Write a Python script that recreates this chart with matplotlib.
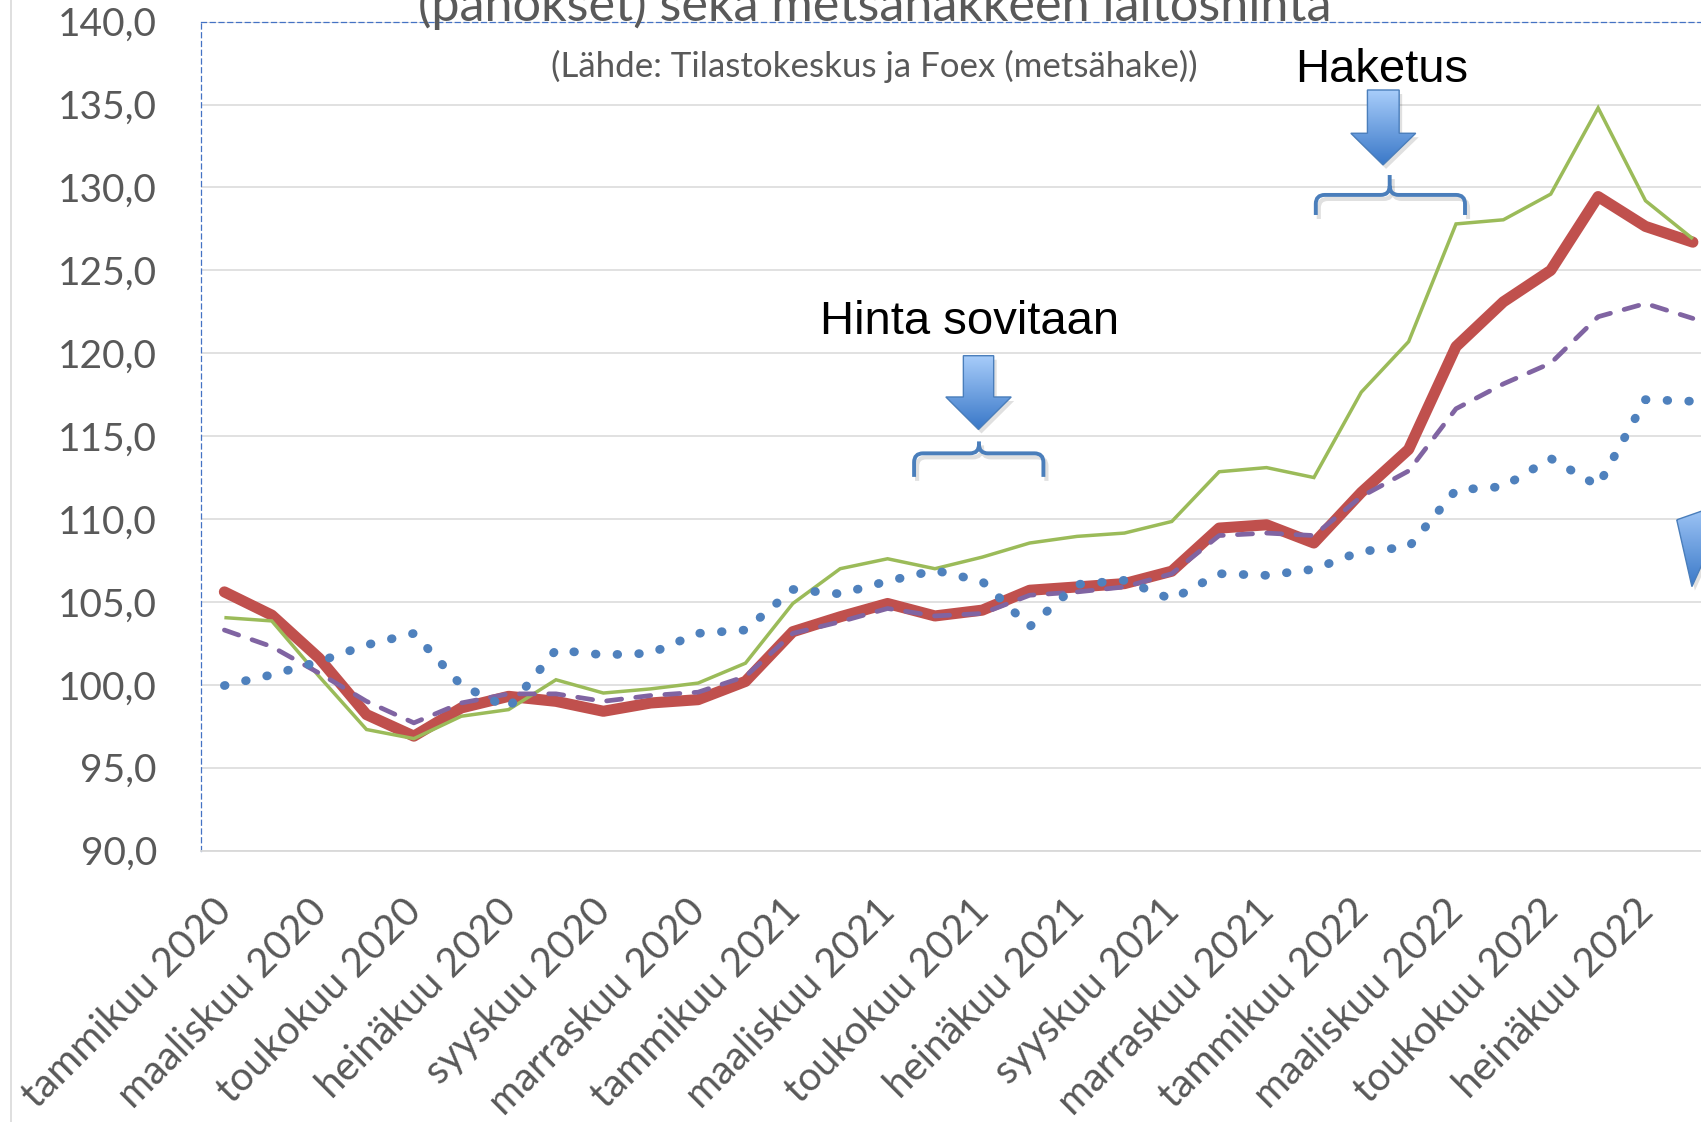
import numpy as np
import matplotlib
matplotlib.use("Agg")
import matplotlib.pyplot as plt
from matplotlib.patches import Polygon, PathPatch
from matplotlib.path import Path
from matplotlib.colors import LinearSegmentedColormap
from matplotlib.transforms import ScaledTranslation
from matplotlib.lines import Line2D

plt.rcParams['font.family'] = ['Lato', 'DejaVu Sans']

# ---------------- data ----------------
categories = [
    "tammikuu 2020", "helmikuu 2020", "maaliskuu 2020", "huhtikuu 2020",
    "toukokuu 2020", "kesäkuu 2020", "heinäkuu 2020", "elokuu 2020",
    "syyskuu 2020", "lokakuu 2020", "marraskuu 2020", "joulukuu 2020",
    "tammikuu 2021", "helmikuu 2021", "maaliskuu 2021", "huhtikuu 2021",
    "toukokuu 2021", "kesäkuu 2021", "heinäkuu 2021", "elokuu 2021",
    "syyskuu 2021", "lokakuu 2021", "marraskuu 2021", "joulukuu 2021",
    "tammikuu 2022", "helmikuu 2022", "maaliskuu 2022", "huhtikuu 2022",
    "toukokuu 2022", "kesäkuu 2022", "heinäkuu 2022", "elokuu 2022",
]

series_red = [105.6, 104.2, 101.6, 98.2, 96.9, 98.6, 99.3, 99.0, 98.4, 98.9,
              99.1, 100.2, 103.2, 104.1, 104.9, 104.15, 104.5, 105.7, 105.9, 106.1,
              106.85, 109.45, 109.65, 108.55, 111.6, 114.2, 120.4, 123.1, 125.0, 129.45,
              127.65, 126.7]
series_green = [104.05, 103.85, 100.5, 97.3, 96.75, 98.1, 98.5, 100.3, 99.5, 99.75,
                100.1, 101.3, 104.9, 107.0, 107.6, 107.0, 107.7, 108.55, 108.95, 109.15,
                109.85, 112.85, 113.1, 112.5, 117.65, 120.7, 127.8, 128.05, 129.6, 134.8,
                129.2, 126.9]
series_purple = [103.3, 102.3, 100.7, 99.0, 97.7, 98.9, 99.45, 99.45, 99.0, 99.35,
                 99.55, 100.5, 103.1, 103.8, 104.6, 104.15, 104.3, 105.4, 105.6, 105.9,
                 106.7, 109.0, 109.15, 109.0, 111.35, 112.9, 116.65, 118.15, 119.4, 122.2,
                 123.0, 122.1]
series_blue = [99.95, 100.6, 101.4, 102.4, 103.1, 99.97, 98.6, 102.1, 101.8, 101.9,
               103.1, 103.3, 105.75, 105.48, 106.25, 106.9, 106.23, 103.5, 106.05, 106.3,
               105.15, 106.7, 106.6, 106.97, 108.05, 108.3, 111.75, 111.95, 113.65, 112.0,
               117.2, 117.1]

y_ticks = [90, 95, 100, 105, 110, 115, 120, 125, 130, 135, 140]
y_tick_labels = [f"{v:.1f}".replace(".", ",") for v in y_ticks]

title_line = "(panokset) sekä metsähakkeen laitoshinta"
subtitle = "(Lähde: Tilastokeskus ja Foex (metsähake))"
note_haketus = "Haketus"
note_hinta = "Hinta sovitaan"

# ---------------- figure ----------------
W, H = 1701, 1122
fig = plt.figure(figsize=(W / 100, H / 100), dpi=100)
fig.patch.set_facecolor("white")

n = len(categories)
cat_px = 47.37
ax = fig.add_axes([200.7 / W, (H - 850.5) / H, n * cat_px / W, (850.5 - 21.7) / H])
ax.set_facecolor("white")
x = np.arange(n)

ax.plot(x, series_red, color="#C0504D", lw=8.0, solid_capstyle="round",
        solid_joinstyle="round", zorder=3)
ax.plot(x, series_green, color="#9BBB59", lw=2.5, solid_joinstyle="miter",
        solid_capstyle="butt", zorder=4)
ax.plot(x, series_purple, color="#8064A2", lw=3.4, linestyle=(0, (3.2, 3.0)),
        dash_capstyle="round", zorder=5)
ax.plot(x, series_blue, color="#4F81BD", lw=6.3, linestyle=(0, (0.08, 2.4)),
        dash_capstyle="round", zorder=6)

# axes styling
ax.set_yticks(y_ticks)
ax.set_yticklabels(y_tick_labels)
ax.yaxis.grid(True, color="#D9D9D9", lw=1.1)
ax.xaxis.grid(False)
ax.set_axisbelow(True)
ax.tick_params(axis="y", length=0, pad=31.5, labelsize=28, labelcolor="#595959")
ax.tick_params(axis="x", length=0, pad=39.5, labelsize=28.8, labelcolor="#595959")
ax.set_xticks(x[::2])
ax.set_xticklabels(categories[::2], rotation=45, ha="right", va="center",
                   rotation_mode="anchor")
for lab in ax.get_xticklabels():
    lab.set_transform(lab.get_transform() + ScaledTranslation(1.5 / 100, 0, fig.dpi_scale_trans))

for side in ("left", "top"):
    ax.spines[side].set_color("#4472C4")
    ax.spines[side].set_linewidth(0.9)
    ax.spines[side].set_linestyle((0, (4, 3)))
ax.spines["bottom"].set_color("#D9D9D9")
ax.spines["bottom"].set_linewidth(1.3)
ax.spines["right"].set_visible(False)

# chart area border at left
fig.add_artist(Line2D([11 / W, 11 / W], [0, 1], color="#D9D9D9", lw=1.2))

renderer = fig.canvas.get_renderer()


def fit_width(t, target_px):
    w = t.get_window_extent(renderer).width
    t.set_fontsize(t.get_fontsize() * target_px / w)


t1 = fig.text(875 / W, 1 - 20.5 / H, title_line, ha="center", va="baseline",
              color="#595959", fontsize=36)
fit_width(t1, 914)
t2 = fig.text(874.5 / W, 1 - 77 / H, subtitle, ha="center", va="baseline",
              color="#595959", fontsize=24)
fit_width(t2, 647)

# annotations (data coordinates: category index, value)
ax.text(24.44, 136.34, note_haketus, ha="center", va="baseline", fontsize=34,
        family="Liberation Sans", color="black", zorder=10)
ax.text(15.74, 121.16, note_hinta, ha="center", va="baseline", fontsize=34,
        family="Liberation Sans", color="black", zorder=10)

arrow_cmap = LinearSegmentedColormap.from_list("arr", ["#A8CDFA", "#3A78C8"])
px_x = 1 / cat_px
px_y = 1 / 16.58


def block_arrow(verts):
    sh = [(vx + 3 * px_x, vy - 4 * px_y) for vx, vy in verts]
    ax.add_patch(Polygon(sh, closed=True, facecolor="#000000", alpha=0.12,
                         edgecolor="none", zorder=7))
    poly = Polygon(verts, closed=True, facecolor="none", edgecolor="#4A7EBB",
                   lw=1.0, zorder=9)
    ax.add_patch(poly)
    xs, ys = zip(*verts)
    grad = np.linspace(0, 1, 256).reshape(-1, 1)
    im = ax.imshow(grad, extent=(min(xs), max(xs), min(ys), max(ys)), origin="upper",
                   cmap=arrow_cmap, aspect="auto", zorder=8, interpolation="bilinear")
    im.set_clip_path(poly)


def brace(xl, xr, xc, yh, ye, ytip, r=9):
    rx, ry = r * px_x, r * px_y
    verts = [(xl, ye), (xl, yh - ry), (xl, yh), (xl + rx, yh), (xc - rx, yh),
             (xc, yh), (xc, yh + ry), (xc, ytip),
             (xr, ye), (xr, yh - ry), (xr, yh), (xr - rx, yh), (xc + rx, yh),
             (xc, yh), (xc, yh + ry)]
    codes = [Path.MOVETO, Path.LINETO, Path.CURVE3, Path.CURVE3, Path.LINETO,
             Path.CURVE3, Path.CURVE3, Path.LINETO,
             Path.MOVETO, Path.LINETO, Path.CURVE3, Path.CURVE3, Path.LINETO,
             Path.CURVE3, Path.CURVE3]
    sh = [(vx + 3 * px_x, vy - 4 * px_y) for vx, vy in verts]
    ax.add_patch(PathPatch(Path(sh, codes), facecolor="none", edgecolor="#000000",
                           alpha=0.12, lw=3.0, zorder=7))
    ax.add_patch(PathPatch(Path(verts, codes), facecolor="none", edgecolor="#4A7EBB",
                           lw=2.8, capstyle="butt", joinstyle="round", zorder=9))


block_arrow([(24.13, 135.88), (24.80, 135.88), (24.80, 133.27), (25.15, 133.27),
             (24.46, 131.36), (23.78, 133.27), (24.13, 133.27)])
block_arrow([(15.60, 119.85), (16.24, 119.85), (16.24, 117.36), (16.61, 117.36),
             (15.92, 115.40), (15.23, 117.36), (15.60, 117.36)])
block_arrow([(30.66, 109.95), (31.80, 111.09), (30.98, 105.92)])

brace(23.04, 26.19, 24.60, 129.55, 128.34, 130.75)
brace(14.56, 17.29, 15.93, 113.96, 112.54, 114.68)

ax.set_xlim(-0.5, n - 0.5)
ax.set_ylim(90, 140)

fig.savefig("out.png", dpi=100, facecolor="white")
